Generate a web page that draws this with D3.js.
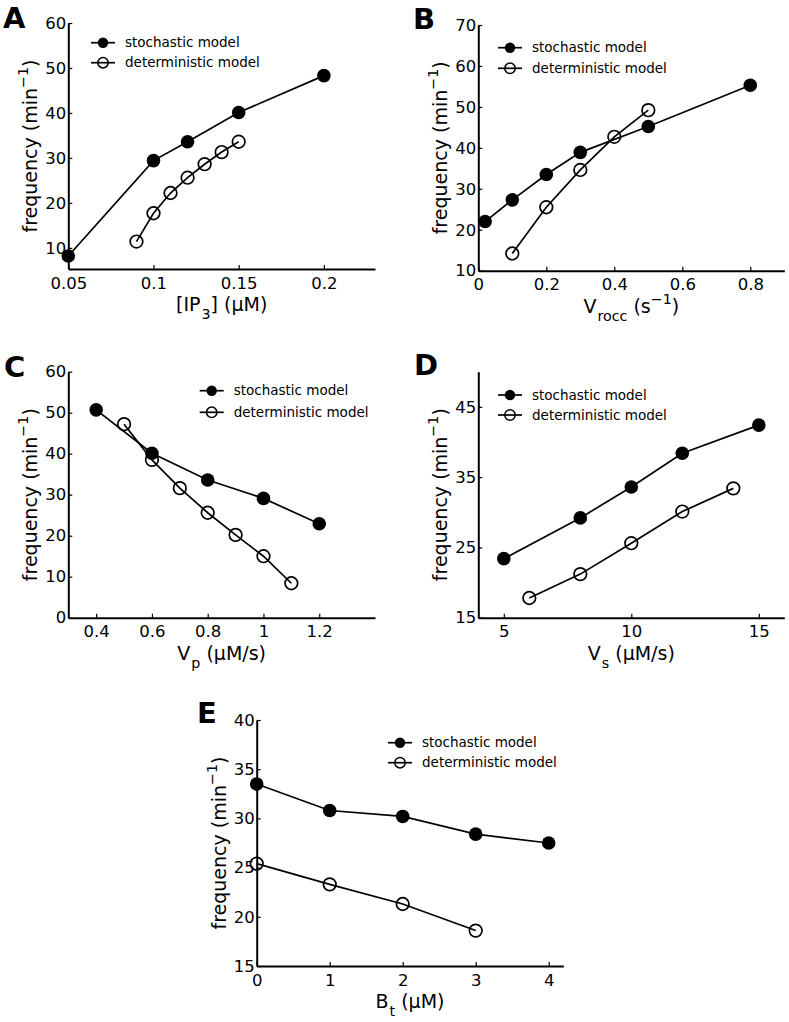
<!DOCTYPE html>
<html>
<head>
<meta charset="utf-8">
<script src="https://cdn.jsdelivr.net/npm/d3@7"></script>
<style>
  html, body { margin: 0; padding: 0; background: #fff; }
  svg { display: block; }
  text { font-family: "DejaVu Sans", sans-serif; fill: #000; }
</style>
</head>
<body>
<svg id="chart" width="789" height="1022"></svg>
<script>
// ---------------- DATA ----------------
const seriesNames = ["stochastic model", "deterministic model"];

// Panel A: [IP3]
const aStochX = [0.05, 0.10, 0.12, 0.15, 0.20];
const aStochY = [8.2, 29.4, 33.6, 40.1, 48.3];
const aDetX = [0.09, 0.10, 0.11, 0.12, 0.13, 0.14, 0.15];
const aDetY = [11.4, 17.7, 22.2, 25.6, 28.6, 31.3, 33.6];
const aXTicks = [0.05, 0.1, 0.15, 0.2];
const aXTickLabels = ["0.05", "0.1", "0.15", "0.2"];
const aYTicks = [10, 20, 30, 40, 50, 60];

// Panel B: V_rocc
const bStochX = [0.02, 0.1, 0.2, 0.3, 0.5, 0.8];
const bStochY = [22.0, 27.3, 33.5, 38.9, 45.2, 55.3];
const bDetX = [0.1, 0.2, 0.3, 0.4, 0.5];
const bDetY = [14.2, 25.5, 34.6, 42.7, 49.2];
const bXTicks = [0, 0.2, 0.4, 0.6, 0.8];
const bXTickLabels = ["0", "0.2", "0.4", "0.6", "0.8"];
const bYTicks = [10, 20, 30, 40, 50, 60, 70];

// Panel C: V_p
const cStochX = [0.4, 0.6, 0.8, 1.0, 1.2];
const cStochY = [50.7, 40.1, 33.6, 29.1, 22.9];
const cDetX = [0.5, 0.6, 0.7, 0.8, 0.9, 1.0, 1.1];
const cDetY = [47.2, 38.5, 31.6, 25.6, 20.2, 15.0, 8.4];
const cXTicks = [0.4, 0.6, 0.8, 1.0, 1.2];
const cXTickLabels = ["0.4", "0.6", "0.8", "1", "1.2"];
const cYTicks = [0, 10, 20, 30, 40, 50, 60];

// Panel D: V_s
const dStochX = [5, 8, 10, 12, 15];
const dStochY = [23.4, 29.2, 33.6, 38.4, 42.4];
const dDetX = [6, 8, 10, 12, 14];
const dDetY = [17.8, 21.2, 25.6, 30.1, 33.4];
const dXTicks = [5, 10, 15];
const dXTickLabels = ["5", "10", "15"];
const dYTicks = [15, 25, 35, 45];

// Panel E: B_t
const eStochX = [0, 1, 2, 3, 4];
const eStochY = [33.5, 30.8, 30.2, 28.4, 27.5];
const eDetX = [0, 1, 2, 3];
const eDetY = [25.4, 23.3, 21.3, 18.6];
const eXTicks = [0, 1, 2, 3, 4];
const eXTickLabels = ["0", "1", "2", "3", "4"];
const eYTicks = [15, 20, 25, 30, 35, 40];

// Axis label pieces: [text, mode] mode: n normal, sub, sup
const aXLabel = [["[IP", "n"], ["3", "sub"], ["] (\u03bcM)", "n"]];
const bXLabel = [["V", "n"], ["rocc", "sub"], [" (s", "n"], ["\u22121", "sup"], [")", "n"]];
const cXLabel = [["V", "n"], ["p", "sub"], [" (\u03bcM/s)", "n"]];
const dXLabel = [["V", "n"], ["s", "sub"], [" (\u03bcM/s)", "n"]];
const eXLabel = [["B", "n"], ["t", "sub"], [" (\u03bcM)", "n"]];
const yLabel = [["frequency (min", "n"], ["\u22121", "sup"], [")", "n"]];

// ---------------- LAYOUT ----------------
const panels = [
  { letter: "A", lx: 3, ly: 28, left: 68.3, top: 23, w: 306.7, h: 246,
    xDom: [0.05, 0.23], yDom: [5.3, 60],
    sx: aStochX, sy: aStochY, dx: aDetX, dy: aDetY,
    xt: aXTicks, xtl: aXTickLabels, yt: aYTicks, xl: aXLabel,
    leg: { x: 103, y: 42.7, gap: 20 } },
  { letter: "B", lx: 413, ly: 28.5, left: 478.3, top: 25, w: 306, h: 245.7,
    xDom: [0, 0.9], yDom: [10, 70],
    sx: bStochX, sy: bStochY, dx: bDetX, dy: bDetY,
    xt: bXTicks, xtl: bXTickLabels, yt: bYTicks, xl: bXLabel,
    leg: { x: 510, y: 47.7, gap: 20.6 } },
  { letter: "C", lx: 4, ly: 377, left: 68.3, top: 371.7, w: 306.7, h: 246,
    xDom: [0.3, 1.4], yDom: [0, 60],
    sx: cStochX, sy: cStochY, dx: cDetX, dy: cDetY,
    xt: cXTicks, xtl: cXTickLabels, yt: cYTicks, xl: cXLabel,
    leg: { x: 211.7, y: 390.7, gap: 21.6 } },
  { letter: "D", lx: 414, ly: 375, left: 478.3, top: 371.7, w: 306, h: 246,
    xDom: [4, 16], yDom: [15, 50],
    sx: dStochX, sy: dStochY, dx: dDetX, dy: dDetY,
    xt: dXTicks, xtl: dXTickLabels, yt: dYTicks, xl: dXLabel,
    leg: { x: 510, y: 395, gap: 20 } },
  { letter: "E", lx: 197, ly: 723, left: 256.7, top: 720, w: 306.6, h: 246,
    xDom: [0, 4.2], yDom: [15, 40],
    sx: eStochX, sy: eStochY, dx: eDetX, dy: eDetY,
    xt: eXTicks, xtl: eXTickLabels, yt: eYTicks, xl: eXLabel,
    leg: { x: 400, y: 742.7, gap: 20 } }
];

const TICK_FS = 16.5, LABEL_FS = 19, LEG_FS = 13.5, LETTER_FS = 29;
const svg = d3.select("#chart");

function addRich(sel, parts, fs) {
  parts.forEach(([t, mode], i) => {
    const ts = sel.append("tspan").text(t);
    if (mode === "sub") {
      ts.attr("font-size", fs * 0.75).attr("dy", fs * 0.42).attr("dx", 1);
    } else if (mode === "sup") {
      ts.attr("font-size", fs * 0.75).attr("dy", -fs * 0.48);
    } else {
      const prev = i > 0 ? parts[i - 1][1] : "n";
      if (prev === "sub") ts.attr("dy", -fs * 0.42);
      if (prev === "sup") ts.attr("dy", fs * 0.48);
    }
  });
}

panels.forEach(p => {
  const g = svg.append("g");
  const x = d3.scaleLinear().domain(p.xDom).range([p.left, p.left + p.w]);
  const y = d3.scaleLinear().domain(p.yDom).range([p.top + p.h, p.top]);

  // axes
  const xAxis = d3.axisBottom(x).tickValues(p.xt)
    .tickFormat((d, i) => p.xtl[i]).tickSizeInner(-4).tickSizeOuter(0).tickPadding(8);
  const yAxis = d3.axisLeft(y).tickValues(p.yt)
    .tickFormat(d3.format("d")).tickSizeInner(-4).tickSizeOuter(0).tickPadding(2);

  const gx = g.append("g").attr("transform", `translate(0,${p.top + p.h})`).call(xAxis);
  const gy = g.append("g").attr("transform", `translate(${p.left},0)`).call(yAxis);
  [gx, gy].forEach(a => {
    a.select(".domain").attr("stroke", "#000").attr("stroke-width", 2);
    a.selectAll(".tick line").attr("stroke", "#000").attr("stroke-width", 1.2);
    a.selectAll(".tick text").attr("font-family", "DejaVu Sans").attr("font-size", TICK_FS).attr("fill", "#000");
  });

  // axis labels
  const xl = g.append("text")
    .attr("x", p.left + p.w / 2).attr("y", p.top + p.h + 42)
    .attr("text-anchor", "middle").attr("font-size", LABEL_FS);
  addRich(xl, p.xl, LABEL_FS);

  const cy = p.top + p.h / 2;
  const yl = g.append("text")
    .attr("transform", `translate(${p.left - 31},${cy}) rotate(-90)`)
    .attr("text-anchor", "middle").attr("font-size", LABEL_FS);
  addRich(yl, yLabel, LABEL_FS);

  // panel letter
  g.append("text").attr("x", p.lx).attr("y", p.ly)
    .attr("font-size", LETTER_FS).attr("font-weight", "bold").text(p.letter);

  const line = d3.line().x(d => x(d[0])).y(d => y(d[1]));
  const stoch = p.sx.map((v, i) => [v, p.sy[i]]);
  const det = p.dx.map((v, i) => [v, p.dy[i]]);

  [stoch, det].forEach(ser => {
    g.append("path").datum(ser).attr("d", line)
      .attr("fill", "none").attr("stroke", "#000").attr("stroke-width", 1.7);
  });
  g.selectAll(".sdot").data(stoch).enter().append("circle")
    .attr("cx", d => x(d[0])).attr("cy", d => y(d[1])).attr("r", 6.8)
    .attr("fill", "#000");
  g.selectAll(".ddot").data(det).enter().append("circle")
    .attr("cx", d => x(d[0])).attr("cy", d => y(d[1])).attr("r", 6.3)
    .attr("fill", "none").attr("stroke", "#000").attr("stroke-width", 1.7);

  // legend
  seriesNames.forEach((name, i) => {
    const ly = p.leg.y + i * p.leg.gap;
    g.append("line").attr("x1", p.leg.x - 12).attr("x2", p.leg.x + 12)
      .attr("y1", ly).attr("y2", ly).attr("stroke", "#000").attr("stroke-width", 1.7);
    const c = g.append("circle").attr("cx", p.leg.x).attr("cy", ly).attr("r", 5.2);
    if (i === 0) c.attr("fill", "#000");
    else c.attr("fill", "none").attr("stroke", "#000").attr("stroke-width", 1.5);
    g.append("text").attr("x", p.leg.x + 22).attr("y", ly).attr("dy", "0.35em")
      .attr("font-size", LEG_FS).text(name);
  });
});
</script>
</body>
</html>
